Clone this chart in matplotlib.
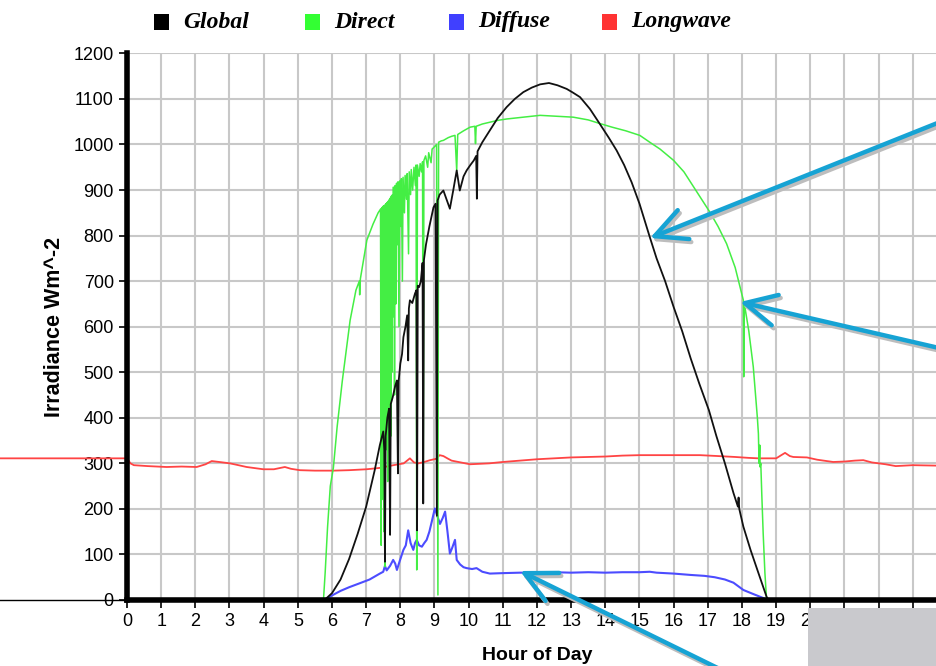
import matplotlib
matplotlib.use("Agg")
import matplotlib.pyplot as plt
from matplotlib.patches import Rectangle

plt.rcParams['font.family'] = ['Liberation Sans', 'DejaVu Sans']

# %% Data (hour of day, irradiance in W m^-2)
global_hours = [5.78, 6.0, 6.25, 6.5, 6.75, 7.0, 7.25, 7.4, 7.5, 7.53, 7.55, 7.57, 7.62, 7.67,
                7.7, 7.72, 7.78, 7.85, 7.9, 7.93, 7.95, 8.0, 8.05, 8.09, 8.15, 8.2, 8.23, 8.25,
                8.28, 8.35, 8.43, 8.47, 8.49, 8.51, 8.55, 8.6, 8.65, 8.67, 8.69, 8.75, 8.85,
                8.97, 9.03, 9.07, 9.09, 9.15, 9.26, 9.35, 9.45, 9.55, 9.65, 9.74, 9.85, 9.94,
                10.05, 10.15, 10.22, 10.24, 10.26, 10.4, 10.62, 10.85, 11.11, 11.35, 11.6,
                11.85, 12.09, 12.35, 12.6, 12.87, 13.05, 13.26, 13.55, 13.84, 14.1, 14.33,
                14.55, 14.77, 15.0, 15.3, 15.5, 15.75, 16.0, 16.25, 16.5, 16.75, 17.03, 17.25,
                17.5, 17.75, 17.88, 17.9, 17.92, 18.04, 18.25, 18.5, 18.72, 18.78]
global_vals = [0, 15, 45, 90, 145, 205, 285, 340, 370, 330, 84, 360, 400, 420,
               143, 430, 446, 470, 482, 278, 480, 519, 540, 577, 600, 625, 526, 640,
               658, 652, 673, 680, 153, 690, 687, 700, 740, 212, 746, 780, 820,
               862, 870, 185, 877, 890, 899, 880, 859, 900, 943, 899, 930, 943,
               955, 965, 975, 881, 985, 1005, 1031, 1058, 1082, 1100, 1115,
               1125, 1132, 1135, 1130, 1122, 1114, 1104, 1078, 1045, 1015, 987,
               955, 917, 870, 797, 750, 700, 643, 590, 530, 475, 417, 360,
               300, 235, 205, 225, 200, 161, 110, 55, 7, 0]

direct_hours = [5.75, 5.8, 5.87, 5.95, 6.04, 6.15, 6.3, 6.53, 6.7, 6.8, 6.81, 6.83, 7.02, 7.2,
                7.35, 7.42, 7.44, 7.45, 7.46, 7.47, 7.48, 7.49, 7.5, 7.51, 7.52, 7.53, 7.54,
                7.55, 7.56, 7.57, 7.58, 7.59, 7.6, 7.61, 7.62, 7.63, 7.64, 7.65, 7.66, 7.67,
                7.68, 7.69, 7.7, 7.71, 7.72, 7.73, 7.74, 7.75, 7.76, 7.77, 7.79, 7.81, 7.83,
                7.85, 7.87, 7.89, 7.91, 7.93, 7.96, 7.98, 8.01, 8.03, 8.06, 8.08, 8.12, 8.14,
                8.18, 8.2, 8.24, 8.26, 8.3, 8.32, 8.36, 8.4, 8.44, 8.46, 8.48, 8.5, 8.55,
                8.58, 8.62, 8.65, 8.67, 8.69, 8.74, 8.8, 8.83, 8.9, 8.93, 9.0, 9.06, 9.1,
                9.12, 9.2, 9.26, 9.4, 9.5, 9.6, 9.65, 9.68, 9.85, 10.04, 10.18, 10.2, 10.22,
                10.4, 10.62, 10.85, 11.11, 11.6, 12.09, 12.6, 13.06, 13.5, 13.84, 14.2, 14.6,
                15.01, 15.3, 15.6, 16.0, 16.3, 16.6, 17.03, 17.3, 17.55, 17.8, 18.0, 18.04,
                18.05, 18.07, 18.2, 18.33, 18.45, 18.48, 18.5, 18.52, 18.53, 18.55, 18.58,
                18.62, 18.67, 18.72]
direct_vals = [0, 60, 160, 250, 290, 380, 480, 614, 680, 700, 670, 705, 790, 825,
               850, 858, 120, 860, 420, 862, 300, 864, 220, 865, 150, 866, 520,
               73, 868, 480, 870, 330, 871, 420, 873, 260, 875, 600, 877, 380,
               879, 540, 882, 700, 884, 360, 887, 500, 889, 620, 906, 906, 450,
               910, 650, 915, 780, 918, 600, 920, 820, 925, 700, 928, 850, 932,
               880, 936, 760, 940, 890, 945, 900, 950, 910, 955, 66, 955, 930,
               958, 940, 962, 216, 965, 975, 950, 982, 960, 990, 995, 1000, 11,
               1005, 1008, 1009, 1015, 1018, 1020, 943, 1022, 1030, 1038, 1040, 1002, 1040,
               1045, 1049, 1053, 1056, 1060, 1064, 1062, 1060, 1054, 1046, 1038, 1030,
               1020, 1005, 990, 965, 940, 905, 855, 820, 782, 730, 670, 658,
               490, 650, 590, 512, 400, 365, 300, 340, 292, 300, 230,
               146, 60, 0]

diffuse_hours = [5.78, 6.0, 6.25, 6.5, 6.82, 7.1, 7.4, 7.5, 7.55, 7.6, 7.7, 7.79, 7.85, 7.9,
                 7.98, 8.09, 8.16, 8.23, 8.3, 8.38, 8.43, 8.48, 8.55, 8.63, 8.7, 8.77, 8.85,
                 8.92, 9.01, 9.08, 9.16, 9.24, 9.31, 9.38, 9.45, 9.52, 9.6, 9.65, 9.75, 9.85,
                 9.94, 10.1, 10.23, 10.4, 10.62, 11.0, 11.5, 12.0, 12.5, 13.0, 13.5, 14.0,
                 14.5, 15.0, 15.3, 15.5, 16.0, 16.5, 16.9, 17.2, 17.5, 17.75, 18.04, 18.3,
                 18.5, 18.7, 18.78]
diffuse_vals = [0, 10, 20, 28, 37, 45, 58, 62, 75, 65, 75, 88, 80, 66,
                85, 110, 120, 153, 125, 110, 125, 132, 120, 117, 125, 132, 150,
                172, 201, 185, 167, 180, 194, 150, 102, 115, 132, 88, 78, 72,
                70, 68, 70, 62, 58, 59, 60, 60, 61, 60, 61, 60,
                61, 61, 62, 60, 58, 55, 53, 50, 45, 38, 22, 14,
                8, 2, 0]

longwave_hours = [-3.7, 0.0, 0.1, 0.2, 0.6, 1.16, 1.6, 2.04, 2.3, 2.48, 2.7, 3.01, 3.2, 3.5,
                  3.99, 4.3, 4.62, 4.8, 5.06, 5.5, 6.04, 6.5, 7.01, 7.4, 7.8, 8.1, 8.28, 8.4,
                  8.53, 8.7, 8.87, 9.05, 9.15, 9.26, 9.4, 9.5, 9.7, 10.04, 10.6, 11.0, 11.5,
                  12.0, 12.5, 13.0, 13.5, 14.0, 14.5, 15.0, 15.5, 16.0, 16.77, 17.3, 17.8,
                  18.2, 18.48, 19.0, 19.15, 19.26, 19.4, 19.5, 19.9, 20.2, 20.67, 21.0, 21.3,
                  21.55, 21.8, 22.2, 22.5, 23.0, 23.7, 24.0]
longwave_vals = [311, 311, 300, 296, 294, 292, 293, 292, 298, 305, 303, 300, 297, 292,
                 287, 287, 292, 288, 285, 284, 284, 285, 287, 290, 296, 300, 311, 302,
                 300, 303, 307, 310, 318, 316, 310, 306, 303, 298, 300, 303, 306,
                 309, 311, 313, 314, 315, 317, 318, 318, 318, 318, 316, 314,
                 312, 311, 311, 318, 323, 316, 314, 313, 308, 303, 304, 306,
                 307, 302, 298, 294, 296, 295, 295]

series_names = ['Global', 'Direct', 'Diffuse', 'Longwave']
series_colors = ['#000000', '#33ff33', '#4040ff', '#ff3333']
line_colors = ['#111111', '#44ee44', '#4c4cff', '#ff4444']
hour_labels = [str(h) for h in range(0, 21)] + ['', '', '', '']

# %% Figure
W, H = 937, 666
fig = plt.figure(figsize=(W / 100, H / 100), dpi=100)
ax = fig.add_axes([127 / W, 66 / H, 820 / W, 546.6 / H])

ax.plot(longwave_hours, longwave_vals, color=line_colors[3], lw=1.3, zorder=3, clip_on=False)
ax.plot(diffuse_hours, diffuse_vals, color=line_colors[2], lw=1.5, zorder=4)
ax.plot(direct_hours, direct_vals, color=line_colors[1], lw=1.1, zorder=5)
ax.plot(global_hours, global_vals, color=line_colors[0], lw=1.3, zorder=6)

ax.set_xlim(0, 24)
ax.set_ylim(0, 1200)
ax.set_xticks(range(0, 25))
ax.set_xticklabels(hour_labels)
ax.set_yticks(range(0, 1300, 100))
ax.grid(True, color='#c8c8c8', lw=1.5)
ax.set_axisbelow(True)
for side in ['top', 'right']:
    ax.spines[side].set_visible(False)
for side in ['left', 'bottom']:
    ax.spines[side].set_linewidth(4)
    ax.spines[side].set_zorder(7)
ax.tick_params(direction='out', length=6, width=1.2, labelsize=13, color='black')
ax.axhline(0, xmin=-127 / 820, xmax=0, color='black', lw=1, clip_on=False)

ax.set_xlabel('Hour of Day', fontsize=14, fontweight='bold', labelpad=12)
ax.set_ylabel('Irradiance Wm^-2', fontsize=15.5, fontweight='bold', labelpad=6)

# Legend along the top
legend_x = [154, 305, 449, 602]
for name, color, x in zip(series_names, series_colors, legend_x):
    fig.add_artist(Rectangle((x / W, (H - 30) / H), 15 / W, 16 / H, transform=fig.transFigure,
                             facecolor=color, edgecolor='none'))
    fig.text((x + 29) / W, (H - 22) / H, name, fontsize=17, fontweight='bold', style='italic',
             family='Liberation Serif', va='center', ha='left')

# Pointer arrows with a soft drop shadow
arrows = [((965, H - 112), (650, H - 238)),
          ((965, H - 354), (740, H - 302)),
          ((742, H - 680), (520, H - 571))]
for (tail, head) in arrows:
    for dx, dy, col, z in [(2, -3, '#bdbdbd', 8), (0, 0, '#16a3d4', 9)]:
        ax.annotate('', xy=(head[0] + dx, head[1] + dy), xytext=(tail[0] + dx, tail[1] + dy),
                    xycoords='figure pixels', textcoords='figure pixels', annotation_clip=False,
                    arrowprops=dict(arrowstyle='->,head_length=0.8,head_width=0.4', color=col,
                                    lw=3.2, mutation_scale=28, shrinkA=0, shrinkB=0,
                                    capstyle='round', joinstyle='round'),
                    zorder=z)

# Grey block in the lower right corner
fig.add_artist(Rectangle((808 / W, 0), 129 / W, 58 / H, transform=fig.transFigure,
                         facecolor='#c9c9cd', edgecolor='none', zorder=10))

fig.savefig('out.png', dpi=100)
